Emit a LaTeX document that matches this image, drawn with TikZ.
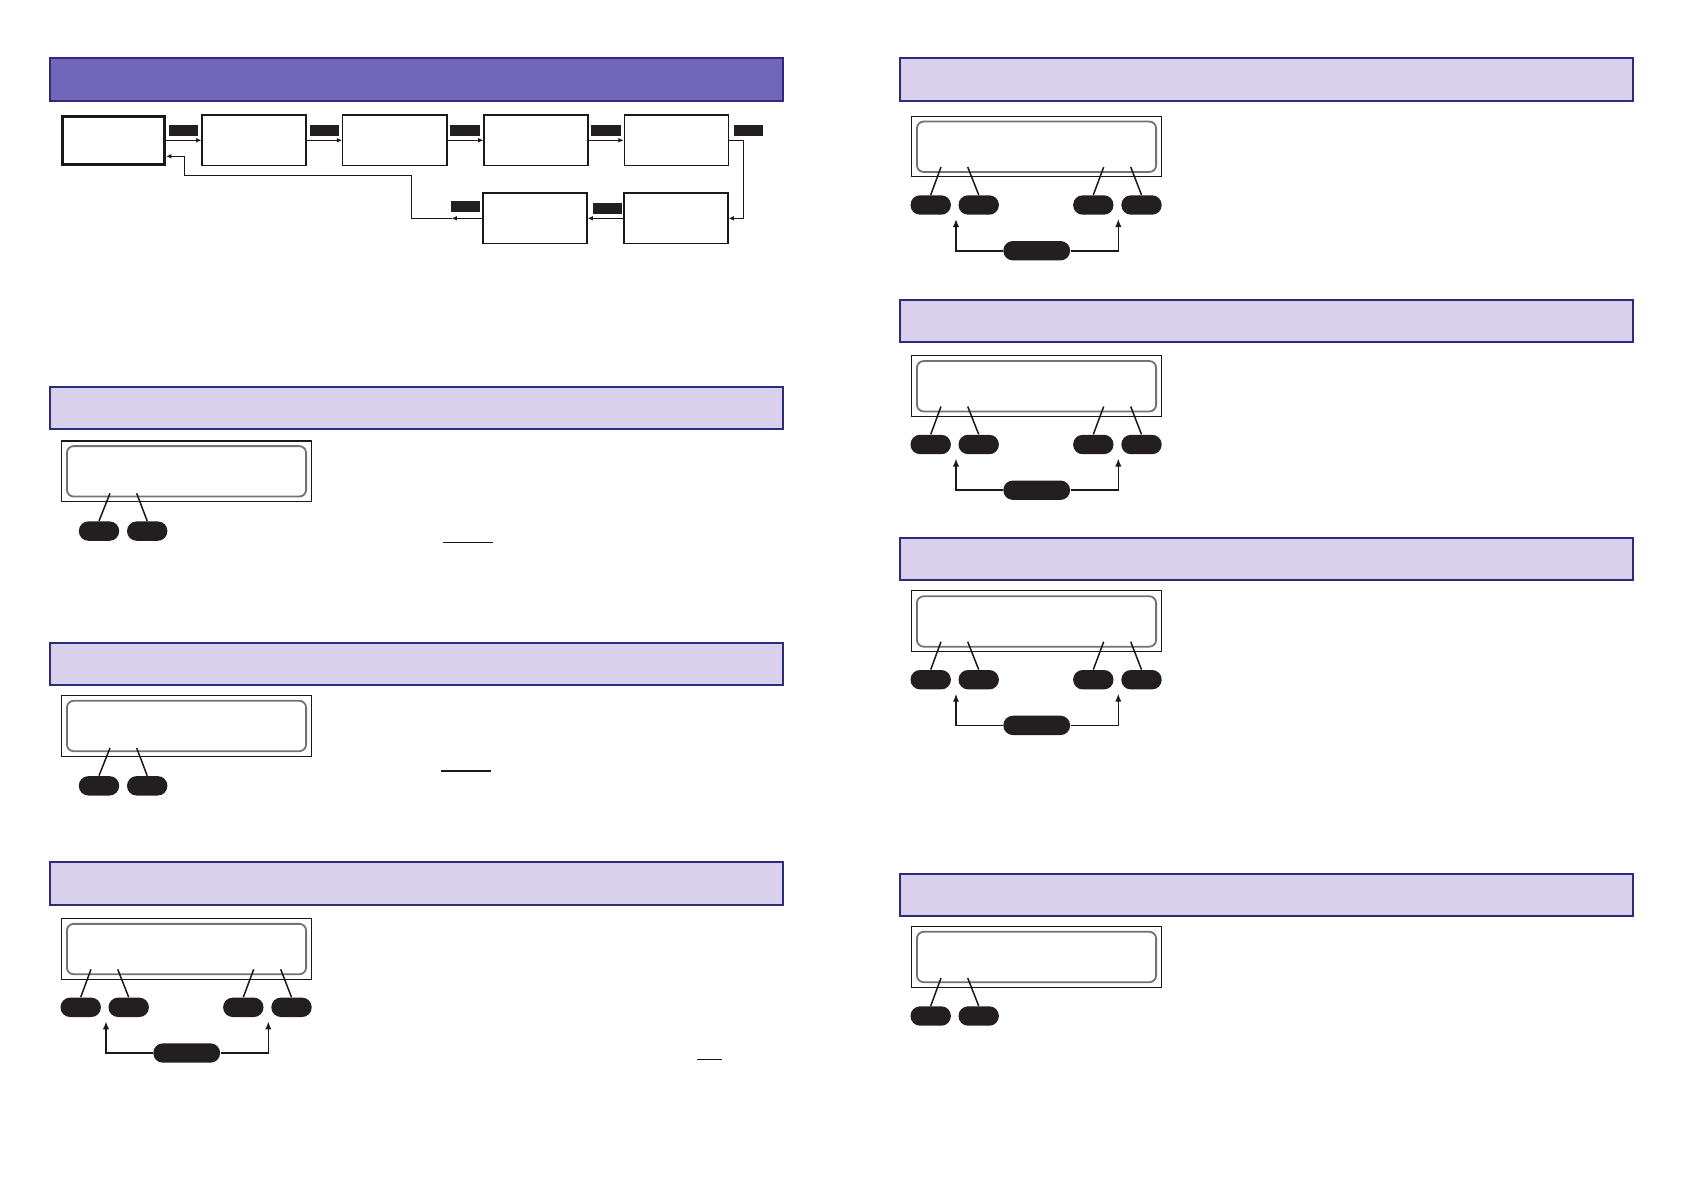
\documentclass[tikz,border=0pt]{standalone}
\usetikzlibrary{arrows.meta,calc}
\definecolor{hdrborder}{HTML}{2E2A7C}
\definecolor{hdrdark}{HTML}{7166BA}
\definecolor{hdrlight}{HTML}{D9D1EC}
\definecolor{pillblack}{HTML}{231F20}
\tikzset{
 hdr/.style={draw=hdrborder, line width=1pt, fill=hdrlight, minimum width=366.4pt, minimum height=21.2pt, inner sep=0pt},
 hdrd/.style={hdr, fill=hdrdark},
 flowbox/.style={draw=black!90, line width=0.65pt, minimum width=52.1pt, minimum height=25.3pt, inner sep=0pt},
 flowboxthick/.style={flowbox, line width=1.45pt, minimum width=51.3pt, minimum height=24.2pt},
 tag/.style={fill=pillblack, minimum width=14.6pt, minimum height=5.3pt, inner sep=0pt},
 flowarrow/.style={draw=black!90, line width=0.5pt, -{Latex[length=2.6pt,width=2.4pt]}},
 lcdouter/.style={draw=black!90, line width=0.55pt, minimum width=125pt, minimum height=30.3pt, inner sep=0pt},
 lcdinner/.style={draw=black!55, line width=0.9pt, rounded corners=3.4pt, minimum width=119.6pt, minimum height=25.2pt, inner sep=0pt},
 keypill/.style={fill=pillblack, rounded corners=4.8pt, minimum width=20.2pt, minimum height=9.7pt, inner sep=0pt},
 keywide/.style={keypill, minimum width=33.4pt},
 keyline/.style={draw=black!90, line width=0.75pt},
 keyarrow/.style={draw=black!90, line width=0.8pt, -{Latex[length=4pt,width=3.2pt]}},
 uline/.style={draw=black!90, line width=0.6pt},
}
% four-key panel: #1 prefix, #2 x0, #3 y0 (top-left of outer frame, px)
\newcommand\lcdfour[3]{%
  \node[lcdouter] (#1o) at ({#2+125.5},{#3+30.5}) {};
  \node[lcdinner] (#1i) at ({#2+125.8},{#3+30.75}) {};
  \node[keypill] (#1k1) at ({#2+20},{#3+89}) {};
  \node[keypill] (#1k2) at ({#2+68},{#3+89}) {};
  \node[keypill] (#1k3) at ({#2+182.6},{#3+89}) {};
  \node[keypill] (#1k4) at ({#2+230.8},{#3+89}) {};
  \coordinate (#1s1) at ({#2+30.3},{#3+51});
  \coordinate (#1s2) at ({#2+57},{#3+51});
  \coordinate (#1s3) at ({#2+193},{#3+51});
  \coordinate (#1s4) at ({#2+220},{#3+51});
  \draw[keyline] (#1s1) -- (#1k1.north);
  \draw[keyline] (#1s2) -- (#1k2.north);
  \draw[keyline] (#1s3) -- (#1k3.north);
  \draw[keyline] (#1s4) -- (#1k4.north);
  \node[keywide] (#1kb) at ({#2+126},{#3+134.7}) {};
  \coordinate (#1tL) at ({#2+45.3},{#3+103});
  \coordinate (#1tR) at ({#2+207.6},{#3+103});
  \draw[keyarrow] (#1kb.west) -| (#1tL);
  \draw[keyarrow] (#1kb.east) -| (#1tR);
}
% two-key panel, keys shifted inward
\newcommand\lcdtwoin[3]{%
  \node[lcdouter] (#1o) at ({#2+125.5},{#3+31}) {};
  \node[lcdinner] (#1i) at ({#2+125.8},{#3+31}) {};
  \node[keypill] (#1k1) at ({#2+38.3},{#3+90.8}) {};
  \node[keypill] (#1k2) at ({#2+86.5},{#3+90.8}) {};
  \coordinate (#1s1) at ({#2+49.3},{#3+53});
  \coordinate (#1s2) at ({#2+76},{#3+53});
  \draw[keyline] (#1s1) -- (#1k1.north);
  \draw[keyline] (#1s2) -- (#1k2.north);
}
% two-key panel, keys at the left
\newcommand\lcdtwoleft[3]{%
  \node[lcdouter] (#1o) at ({#2+125.5},{#3+31}) {};
  \node[lcdinner] (#1i) at ({#2+125.8},{#3+31}) {};
  \node[keypill] (#1k1) at ({#2+20},{#3+90}) {};
  \node[keypill] (#1k2) at ({#2+68},{#3+90}) {};
  \coordinate (#1s1) at ({#2+30.3},{#3+52});
  \coordinate (#1s2) at ({#2+57},{#3+52});
  \draw[keyline] (#1s1) -- (#1k1.north);
  \draw[keyline] (#1s2) -- (#1k2.north);
}
\begin{document}
\begin{tikzpicture}[x=0.5pt,y=-0.5pt]
\useasboundingbox (0,0) rectangle (1684,1190);
\fill[white] (0,0) rectangle (1684,1190);

% headers
\node[hdrd] (hA) at (416.65,79.5) {};
\node[hdr] (hB) at (416.65,408) {};
\node[hdr] (hC) at (416.65,663.7) {};
\node[hdr] (hD) at (416.65,883.3) {};
\node[hdr] (hE) at (1266.65,79.5) {};
\node[hdr] (hF) at (1266.65,321.1) {};
\node[hdr] (hG) at (1266.65,559) {};
\node[hdr] (hH) at (1266.65,895.2) {};

% flowchart
\node[flowboxthick] (f1) at (113.5,140.3) {};
\node[flowbox] (f2) at (254,140.3) {};
\node[flowbox] (f3) at (394.8,140.3) {};
\node[flowbox] (f4) at (536,140.3) {};
\node[flowbox] (f5) at (676.3,140.3) {};
\node[flowbox] (f6) at (535,218.3) {};
\node[flowbox] (f7) at (676,218.3) {};

\node[tag] (t1) at (183.5,130.3) {};
\node[tag] (t2) at (324.5,130.3) {};
\node[tag] (t3) at (465,130.3) {};
\node[tag] (t4) at (606,130.3) {};
\node[tag] (t5) at (748.3,130.3) {};
\node[tag] (t6) at (465.5,206.3) {};
\node[tag] (t7) at (607.3,208.5) {};

\draw[flowarrow] (f1.east) -- (f2.west);
\draw[flowarrow] (f2.east) -- (f3.west);
\draw[flowarrow] (f3.east) -- (f4.west);
\draw[flowarrow] (f4.east) -- (f5.west);
\coordinate (c5) at (743.3,140.3);
\draw[flowarrow] (f5.east) -- (c5) |- (f7.east);
\draw[flowarrow] (f7.west) -- (f6.east);
\coordinate (m6) at (451.7,218.3);
\coordinate (r1) at (411.7,175.3);
\coordinate (r2) at (184.3,156.3);
\draw[flowarrow] (f6.west) -- (m6);
\draw[flowarrow] (m6) -| (r1) -| (r2) -- (r2 -| f1.east);

% panels
\lcdtwoin{pB}{60.7}{440.3}
\lcdtwoin{pC}{60.7}{695}
\lcdfour{pD}{60.7}{918.3}
\lcdfour{pE}{910.7}{116}
\lcdfour{pF}{910.7}{355.5}
\lcdfour{pG}{910.7}{590.7}
\lcdtwoleft{pH}{910.7}{926}

% underlines
\draw[uline] (442.7,542.3) -- (493,542.3);
\draw[uline] (441,771) -- (491,771);
\draw[uline] (697,1059.3) -- (721.7,1059.3);
\end{tikzpicture}
\end{document}
